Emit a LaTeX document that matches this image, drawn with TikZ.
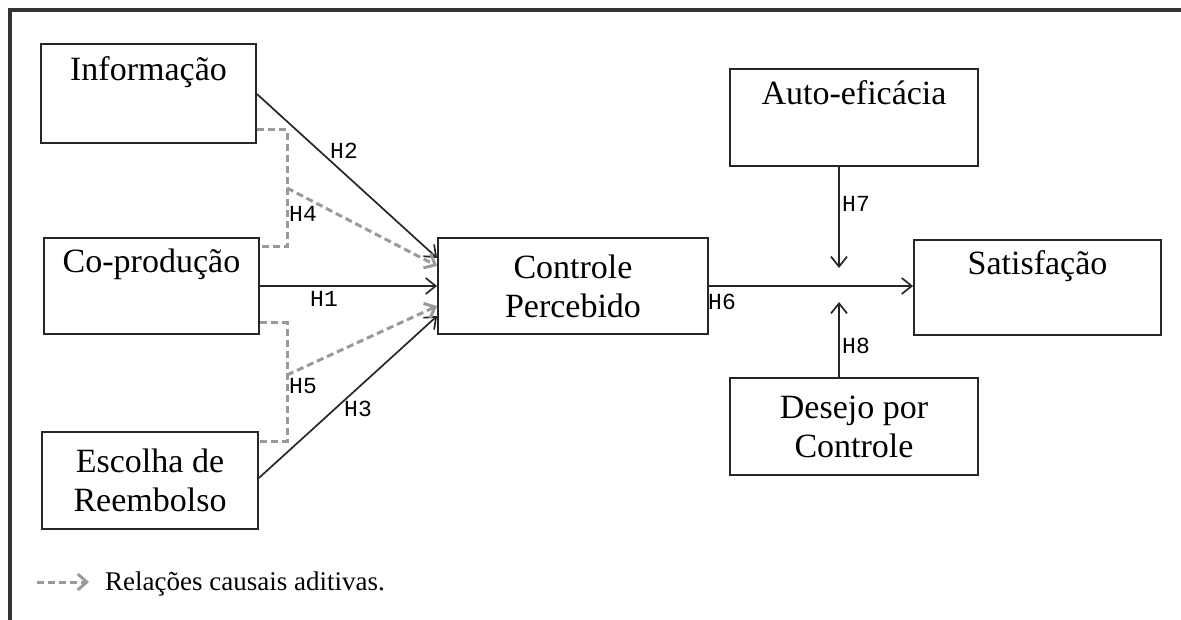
\documentclass[tikz,border=0pt]{standalone}
\usepackage{fontspec}
\setmainfont{Liberation Serif}
\newfontfamily\hfont{Liberation Mono}
\usetikzlibrary{arrows.meta}
\definecolor{dgray}{HTML}{9A9A9A}
\tikzset{
  box/.style={draw=black!85, line width=1.8pt, inner sep=0pt, align=center,
    font=\fontsize{34}{39}\selectfont},
  solidarrow/.style={draw=black!85, line width=1.7pt, -{Straight Barb[length=10pt,width=16pt,line width=1.7pt]}},
  addarrow/.style={draw=dgray, line width=3pt, dash pattern=on 7pt off 4pt,
    -{Straight Barb[length=9pt,width=16pt,line width=3pt]}},
  bracket/.style={draw=dgray, line width=3pt, dash pattern=on 7pt off 4pt},
  hlab/.style={font=\hfont\fontsize{23}{25}\selectfont, inner sep=0pt, anchor=base west},
}
\begin{document}
\begin{tikzpicture}[x=1pt,y=-1pt]
\useasboundingbox (0,0) rectangle (1181,620);
% frame
\draw[black!80, line width=3.5pt] (10,621) -- (10,10) -- (1182,10);
% boxes
\node[box, minimum width=215pt, minimum height=99pt] (info) at (148.5,93.5) {Informação\\\strut};
\node[box, minimum width=215pt, minimum height=96pt] (coprod) at (151.5,286) {Co-produção\\\strut};
\node[box, minimum width=216pt, minimum height=97pt] (escolha) at (150,480.5) {Escolha de\\Reembolso};
\node[box, minimum width=270pt, minimum height=96pt] (ctrl) at (573,286) {Controle\\Percebido};
\node[box, minimum width=248pt, minimum height=97pt] (auto) at (854,117.5) {Auto-eficácia\\\strut};
\node[box, minimum width=247pt, minimum height=95pt] (satis) at (1037.5,287.5) {Satisfação\\\strut};
\node[box, minimum width=248pt, minimum height=97pt] (desejo) at (854,426.5) {Desejo por\\Controle};
% coordinates
\coordinate (h7end) at (839,268);
\coordinate (h8end) at (839,302);
\coordinate (h4start) at (287,188);
\coordinate (h5start) at (287,375);
% solid arrows
\draw[solidarrow] (coprod.east) -- (ctrl.west);
\draw[solidarrow] (info.east |- 0,94) -- (ctrl.west |- 0,258);
\draw[solidarrow] (escolha.east |- 0,478) -- (ctrl.west |- 0,316);
\draw[solidarrow] (ctrl.east) -- (satis.west |- ctrl.east);
\draw[solidarrow] (auto.south -| h7end) -- (h7end);
\draw[solidarrow] (desejo.north -| h8end) -- (h8end);
% dashed brackets
\draw[bracket] (info.east |- 0,130) -- (287,130) -- (287,247) -- (coprod.east |- 0,247);
\draw[bracket] (coprod.east |- 0,323) -- (287,323) -- (287,441) -- (escolha.east |- 0,441);
\draw[addarrow] (h4start) -- (ctrl.west |- 0,266);
\draw[addarrow] (h5start) -- (ctrl.west |- 0,306);
% labels
\node[hlab] (lh1) at (310,307) {H1};
\node[hlab] (lh2) at (330,159) {H2};
\node[hlab] (lh3) at (344,416) {H3};
\node[hlab] (lh4) at (289,222) {H4};
\node[hlab] (lh5) at (289,393) {H5};
\node[hlab] (lh6) at (708,310) {H6};
\node[hlab] (lh7) at (842,212) {H7};
\node[hlab] (lh8) at (842,354) {H8};
% legend
\coordinate (lga) at (37,582);
\coordinate (lgb) at (89,582);
\draw[addarrow] (lga) -- (lgb);
\node[font=\fontsize{27}{30}\selectfont, inner sep=0pt, anchor=base west] (legend) at (105,590) {Relações causais aditivas.};
\end{tikzpicture}
\end{document}
